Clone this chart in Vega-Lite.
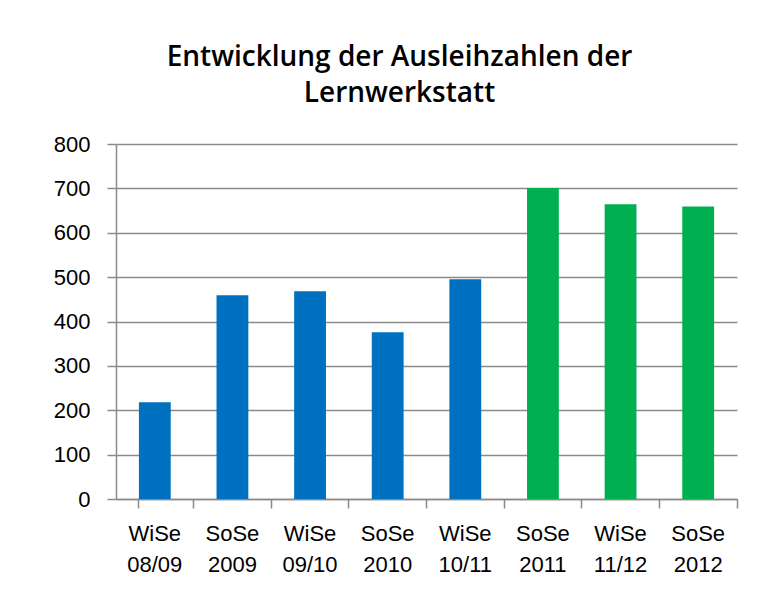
{
  "$schema": "https://vega.github.io/schema/vega-lite/v6.json",
  "width": 621,
  "height": 355,
  "autosize": "none",
  "padding": {"left": 116, "top": 144, "right": 35, "bottom": 106},
  "background": "white",
  "config": {"view": {"stroke": null}},
  "title": {
    "text": ["Entwicklung der Ausleihzahlen der", "Lernwerkstatt"],
    "font": "Open Sans",
    "fontSize": 28,
    "fontWeight": 600,
    "lineHeight": 36,
    "color": "#000000",
    "anchor": "middle",
    "dx": -27,
    "offset": 25
  },
  "data": {
    "values": [
      {"semester": "WiSe 08/09", "count": 218, "group": "a"},
      {"semester": "SoSe 2009", "count": 459, "group": "a"},
      {"semester": "WiSe 09/10", "count": 468, "group": "a"},
      {"semester": "SoSe 2010", "count": 376, "group": "a"},
      {"semester": "WiSe 10/11", "count": 495, "group": "a"},
      {"semester": "SoSe 2011", "count": 701, "group": "b"},
      {"semester": "WiSe 11/12", "count": 664, "group": "b"},
      {"semester": "SoSe 2012", "count": 659, "group": "b"}
    ]
  },
  "resolve": {"axis": {"x": "independent"}},
  "layer": [
    {
      "mark": {"type": "bar"},
      "encoding": {
        "x": {
          "field": "semester", "type": "nominal", "sort": null,
          "scale": {"paddingInner": 0.59, "paddingOuter": 0.295},
          "axis": {
            "title": null, "labelAngle": 0, "ticks": false,
            "labelExpr": "split(datum.label, ' ')",
            "labelFont": "Liberation Sans", "labelFontSize": 22, "labelColor": "#000000",
            "labelLineHeight": 31, "labelPadding": 24,
            "domainColor": "#8a8a8a", "domainWidth": 1.5
          }
        },
        "y": {
          "field": "count", "type": "quantitative",
          "scale": {"domain": [0, 800]},
          "axis": {
            "title": null, "values": [0, 100, 200, 300, 400, 500, 600, 700, 800],
            "labelFont": "Liberation Sans", "labelFontSize": 22, "labelColor": "#000000",
            "labelPadding": 17, "tickSize": 9, "tickColor": "#8a8a8a", "tickWidth": 1.5,
            "domainColor": "#8a8a8a", "domainWidth": 1.5,
            "gridColor": "#8a8a8a", "gridWidth": 1.5, "grid": true
          }
        },
        "color": {
          "field": "group", "type": "nominal",
          "scale": {"domain": ["a", "b"], "range": ["#0070C0", "#00B050"]},
          "legend": null
        }
      }
    },
    {
      "mark": {"type": "bar", "opacity": 0},
      "encoding": {
        "x": {
          "field": "semester", "type": "nominal", "sort": null,
          "axis": {
            "orient": "bottom", "title": null, "labels": false, "domain": false,
            "bandPosition": 1.72, "tickExtra": true,
            "tickSize": 9, "tickColor": "#8a8a8a", "tickWidth": 1.5
          }
        },
        "y": {"field": "count", "type": "quantitative"}
      }
    }
  ]
}
